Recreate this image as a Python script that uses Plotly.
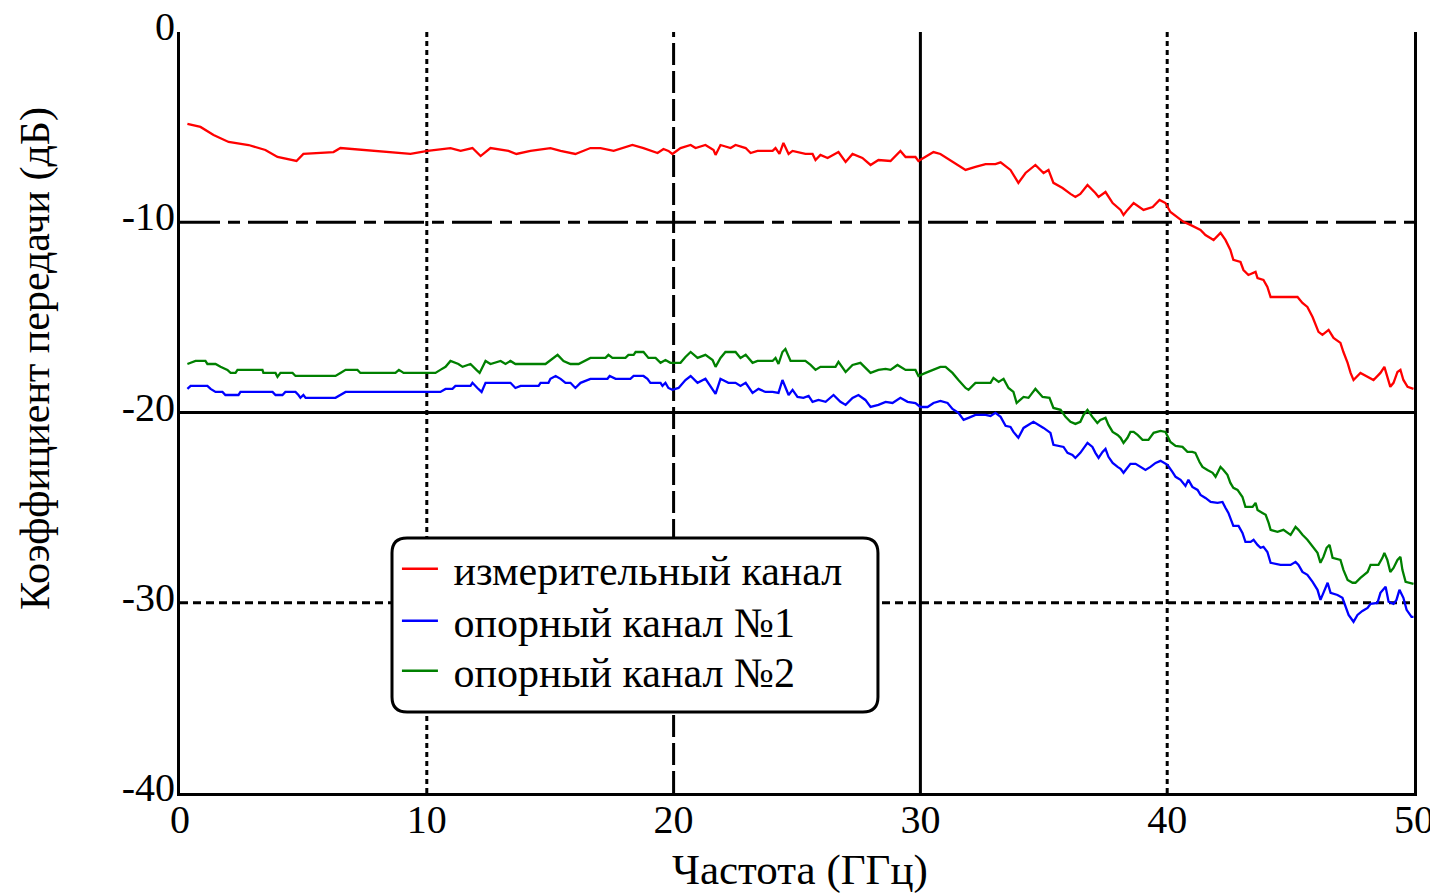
import plotly.graph_objects as go

# ---- data ----
freq_meas = [0.30, 0.83, 1.36, 1.97, 2.78, 3.46, 3.95, 4.72, 5.00, 6.22, 6.50, 7.84, 9.34, 10.03, 10.96, 11.37,
             11.85, 12.18, 12.58, 13.31, 13.63, 14.20, 15.01, 15.42, 16.02, 16.63, 17.04, 17.57, 17.98, 18.33,
             18.78, 19.35, 19.59, 19.79, 19.95, 20.28, 20.69, 20.89, 21.29, 21.62, 21.70, 21.90, 22.31, 22.51,
             22.92, 23.12, 23.40, 24.01, 24.13, 24.29, 24.45, 24.66, 24.82, 25.34, 25.63, 25.75, 25.95, 26.24,
             26.68, 26.97, 27.25, 27.65, 27.98, 28.30, 28.79, 29.19, 29.40, 29.80, 29.92, 30.21, 30.53, 30.81,
             31.22, 31.54, 31.83, 32.23, 32.64, 33.04, 33.25, 33.65, 33.97, 34.26, 34.66, 34.99, 35.19, 35.39,
             35.76, 36.08, 36.28, 36.48, 36.77, 37.09, 37.22, 37.50, 37.58, 37.79, 38.11, 38.23, 38.39, 38.64,
             39.04, 39.41, 39.69, 39.93, 40.13, 40.34, 40.66, 40.94, 41.35, 41.55, 41.88, 42.16, 42.36, 42.56,
             42.68, 42.97, 43.09, 43.29, 43.58, 43.66, 43.90, 44.06, 44.19, 44.71, 45.28, 45.48, 45.68, 45.89,
             46.01, 46.13, 46.29, 46.54, 46.74, 47.02, 47.14, 47.31, 47.43, 47.55, 47.83, 48.12, 48.36, 48.64,
             48.80, 48.92, 49.04, 49.17, 49.33, 49.45, 49.57, 49.74, 49.98]
db_meas = [-4.83, -4.99, -5.41, -5.78, -5.94, -6.20, -6.57, -6.78, -6.41, -6.31, -6.10, -6.25, -6.41, -6.25,
           -6.10, -6.25, -6.10, -6.52, -6.10, -6.25, -6.41, -6.25, -6.10, -6.25, -6.41, -6.10, -6.10, -6.25,
           -6.10, -5.94, -6.10, -6.36, -6.15, -6.25, -6.41, -6.10, -5.94, -6.10, -5.94, -6.20, -6.46, -5.94,
           -6.10, -5.94, -6.10, -6.36, -6.25, -6.25, -6.10, -6.41, -5.83, -6.41, -6.25, -6.41, -6.41, -6.73,
           -6.46, -6.62, -6.31, -6.83, -6.41, -6.62, -6.99, -6.73, -6.78, -6.25, -6.57, -6.57, -6.78, -6.57,
           -6.31, -6.41, -6.73, -6.99, -7.25, -7.09, -6.94, -6.94, -6.85, -7.25, -7.93, -7.41, -6.99, -7.41,
           -7.25, -7.93, -8.20, -8.51, -8.67, -8.51, -8.04, -8.46, -8.67, -8.41, -8.57, -8.99, -9.35, -9.62,
           -9.35, -8.99, -9.35, -9.20, -8.83, -8.99, -9.46, -9.67, -9.98, -10.14, -10.40, -10.67, -10.93,
           -10.56, -10.93, -11.46, -11.98, -12.09, -12.51, -12.77, -12.61, -12.93, -13.03, -13.40, -13.93,
           -13.93, -13.93, -14.24, -14.45, -14.98, -15.40, -15.76, -15.92, -15.66, -16.08, -16.34, -16.82,
           -17.39, -17.92, -18.29, -17.92, -18.13, -18.29, -17.92, -17.60, -18.13, -18.65, -18.44, -17.87,
           -17.76, -18.29, -18.65, -18.76]

freq_ref1 = [0.30, 0.43, 1.11, 1.24, 1.44, 1.72, 1.84, 2.37, 2.45, 3.75, 3.87, 4.15, 4.27, 4.68, 4.80, 4.88,
             5.00, 5.09, 6.30, 6.50, 6.71, 10.55, 10.76, 11.04, 11.16, 11.77, 11.85, 12.05, 12.22, 12.38,
             13.39, 13.59, 13.80, 14.53, 14.61, 14.93, 15.01, 15.22, 15.42, 15.62, 15.82, 16.02, 16.23, 16.63,
             17.32, 17.41, 17.65, 18.25, 18.38, 18.78, 18.94, 19.06, 19.47, 19.55, 19.67, 19.79, 19.95, 20.20,
             20.48, 20.69, 20.97, 21.29, 21.49, 21.70, 21.90, 22.22, 22.51, 22.71, 22.92, 23.20, 23.44, 23.72,
             24.01, 24.25, 24.41, 24.66, 24.82, 25.02, 25.26, 25.47, 25.63, 25.87, 26.16, 26.48, 26.76, 26.97,
             27.25, 27.49, 27.77, 27.98, 28.30, 28.59, 28.87, 29.19, 29.48, 29.80, 30.00, 30.29, 30.53, 30.81,
             31.10, 31.30, 31.54, 31.75, 31.95, 32.23, 32.64, 32.84, 33.04, 33.25, 33.45, 33.65, 33.77, 33.97,
             34.18, 34.58, 34.99, 35.27, 35.39, 35.56, 35.80, 35.96, 36.16, 36.28, 36.48, 36.77, 36.97, 37.09,
             37.22, 37.38, 37.50, 37.62, 37.79, 37.99, 38.11, 38.23, 38.39, 38.51, 38.72, 38.92, 39.12, 39.32,
             39.53, 39.73, 39.85, 40.01, 40.21, 40.34, 40.54, 40.74, 40.86, 41.02, 41.23, 41.35, 41.55, 41.76,
             42.04, 42.24, 42.36, 42.48, 42.68, 42.89, 43.05, 43.17, 43.38, 43.50, 43.66, 43.78, 43.90, 44.06,
             44.19, 44.59, 45.00, 45.20, 45.32, 45.48, 45.68, 45.89, 46.09, 46.21, 46.33, 46.50, 46.62, 46.90,
             47.10, 47.22, 47.35, 47.55, 47.71, 47.91, 48.12, 48.24, 48.52, 48.64, 48.85, 48.97, 49.17, 49.29,
             49.41, 49.57, 49.70, 49.90, 49.98]
db_ref1 = [-18.76, -18.60, -18.60, -18.76, -18.92, -18.92, -19.08, -19.08, -18.92, -18.92, -19.08, -19.08,
           -18.92, -18.92, -19.08, -19.23, -19.08, -19.23, -19.23, -19.08, -18.92, -18.92, -18.76, -18.76,
           -18.60, -18.60, -18.44, -18.71, -18.92, -18.44, -18.44, -18.71, -18.60, -18.60, -18.44, -18.44,
           -18.23, -18.08, -18.23, -18.44, -18.44, -18.71, -18.44, -18.23, -18.23, -18.08, -18.23, -18.23,
           -18.08, -18.08, -18.23, -18.44, -18.44, -18.60, -18.44, -18.71, -18.81, -18.71, -18.29, -18.08,
           -18.44, -18.23, -18.65, -19.02, -18.23, -18.44, -18.44, -18.60, -18.44, -18.97, -18.76, -18.92,
           -18.92, -18.97, -18.29, -19.08, -18.81, -19.18, -19.23, -19.13, -19.44, -19.34, -19.44, -19.08,
           -19.44, -19.60, -19.23, -19.08, -19.34, -19.71, -19.60, -19.44, -19.50, -19.23, -19.44, -19.50,
           -19.71, -19.71, -19.50, -19.39, -19.50, -19.81, -20.02, -20.39, -20.28, -20.13, -20.13, -20.18,
           -20.02, -20.23, -20.70, -20.76, -21.02, -21.33, -20.81, -20.49, -20.81, -21.07, -21.70, -21.76,
           -21.81, -22.12, -22.23, -22.39, -22.12, -21.60, -21.81, -22.12, -22.39, -22.07, -21.91, -22.33,
           -22.65, -22.86, -22.96, -23.17, -22.91, -22.70, -22.70, -22.86, -23.02, -22.86, -22.65, -22.54,
           -22.65, -22.75, -23.12, -23.38, -23.54, -23.86, -23.54, -23.91, -24.07, -24.33, -24.49, -24.70,
           -24.75, -24.70, -25.01, -25.28, -25.96, -25.96, -26.33, -26.80, -26.80, -26.69, -26.96, -27.11,
           -27.06, -27.33, -27.90, -28.01, -28.01, -27.85, -28.01, -28.38, -28.53, -28.90, -29.32, -29.85,
           -29.48, -28.95, -29.48, -29.59, -29.74, -30.22, -30.64, -31.00, -30.64, -30.43, -30.27, -30.06,
           -30.01, -29.48, -29.16, -29.95, -30.06, -29.85, -29.32, -29.74, -30.37, -30.74, -30.74]

freq_ref2 = [0.30, 0.63, 1.03, 1.11, 1.44, 1.64, 1.92, 2.05, 2.25, 2.33, 3.34, 3.38, 3.87, 3.95, 4.07, 4.56,
             4.68, 6.30, 6.50, 6.71, 7.19, 7.31, 8.73, 8.87, 9.06, 10.35, 10.55, 10.76, 10.96, 11.28, 11.45,
             11.77, 12.01, 12.14, 12.38, 12.58, 12.99, 13.19, 13.39, 13.59, 14.81, 15.01, 15.30, 15.54, 15.82,
             16.15, 16.31, 16.63, 17.24, 17.36, 17.52, 18.05, 18.17, 18.38, 18.46, 18.78, 18.98, 19.27, 19.47,
             19.67, 19.87, 20.28, 20.48, 20.69, 20.97, 21.29, 21.58, 21.70, 21.90, 22.10, 22.51, 22.71, 22.92,
             23.20, 23.40, 24.01, 24.13, 24.25, 24.41, 24.53, 24.74, 25.34, 25.55, 25.75, 25.95, 26.56, 26.68,
             26.97, 27.25, 27.57, 27.98, 28.30, 28.59, 28.79, 29.07, 29.40, 29.80, 29.92, 30.21, 30.50, 30.81,
             31.02, 31.30, 31.54, 31.83, 31.95, 32.23, 32.84, 32.96, 33.17, 33.37, 33.57, 33.77, 33.90, 34.18,
             34.38, 34.66, 34.95, 35.23, 35.39, 35.68, 35.88, 36.08, 36.28, 36.48, 36.61, 36.77, 36.97, 37.17,
             37.29, 37.50, 37.62, 37.79, 37.99, 38.11, 38.23, 38.39, 38.51, 38.64, 38.80, 39.00, 39.24, 39.45,
             39.73, 39.93, 40.13, 40.34, 40.62, 40.82, 41.02, 41.14, 41.31, 41.43, 41.63, 41.84, 41.96, 42.16,
             42.28, 42.44, 42.56, 42.68, 42.85, 43.05, 43.17, 43.46, 43.58, 43.66, 43.86, 43.99, 44.11, 44.19,
             44.47, 44.71, 45.00, 45.20, 45.32, 45.48, 45.68, 45.89, 46.09, 46.21, 46.33, 46.46, 46.58, 46.70,
             46.90, 47.02, 47.14, 47.31, 47.51, 47.63, 47.83, 48.12, 48.24, 48.56, 48.72, 48.80, 48.92, 49.04,
             49.17, 49.33, 49.45, 49.53, 49.66, 49.98]
db_ref2 = [-17.45, -17.29, -17.29, -17.45, -17.45, -17.60, -17.76, -17.92, -17.92, -17.76, -17.76, -17.92,
           -17.92, -18.13, -17.92, -17.92, -18.08, -18.08, -17.92, -17.76, -17.76, -17.92, -17.92, -17.76,
           -17.92, -17.92, -17.76, -17.60, -17.29, -17.45, -17.60, -17.45, -17.76, -17.92, -17.29, -17.45,
           -17.29, -17.45, -17.29, -17.45, -17.45, -17.24, -16.97, -17.29, -17.45, -17.45, -17.34, -17.13,
           -17.13, -16.97, -17.13, -17.13, -16.97, -16.97, -16.82, -16.82, -17.13, -17.13, -17.39, -17.24,
           -17.39, -17.39, -17.08, -16.82, -17.13, -16.97, -17.24, -17.60, -17.13, -16.82, -16.82, -17.13,
           -16.97, -17.39, -17.29, -17.29, -17.13, -17.45, -16.82, -16.66, -17.29, -17.29, -17.50, -17.76,
           -17.60, -17.60, -17.34, -17.87, -17.50, -17.39, -17.92, -17.76, -17.71, -17.76, -17.50, -17.76,
           -17.76, -18.08, -17.92, -17.76, -17.60, -17.60, -17.92, -18.29, -18.71, -18.81, -18.44, -18.44,
           -18.18, -18.39, -18.23, -18.71, -18.92, -19.50, -19.18, -19.23, -18.76, -19.18, -19.23, -19.76,
           -19.86, -20.23, -20.49, -20.60, -20.49, -20.13, -19.86, -20.23, -20.55, -20.39, -20.28, -20.65,
           -21.02, -21.18, -21.33, -21.60, -21.33, -21.02, -21.02, -21.18, -21.44, -21.44, -21.07, -20.97,
           -21.02, -21.55, -21.76, -21.81, -22.07, -22.07, -22.12, -22.60, -22.86, -23.02, -23.17, -23.38,
           -22.86, -23.02, -23.28, -23.70, -23.96, -24.07, -24.44, -24.96, -24.96, -24.75, -25.12, -25.28,
           -25.38, -25.80, -26.17, -26.27, -26.17, -26.43, -26.01, -26.17, -26.43, -26.69, -27.06, -27.38,
           -27.90, -27.59, -27.11, -26.96, -27.64, -27.69, -27.75, -28.27, -28.80, -28.95, -28.95, -28.69,
           -28.38, -28.01, -28.01, -27.64, -27.38, -27.75, -28.38, -28.17, -27.75, -27.59, -28.27, -28.90,
           -29.01]

series_names = ["измерительный канал", "опорный канал №1", "опорный канал №2"]
series_colors = ["#ff0000", "#0000ff", "#008000"]
legend_ids = ["legend", "legend2", "legend3"]

x_ticks = [0, 10, 20, 30, 40, 50]
y_ticks = [-40, -30, -20, -10, 0]
y_tick_text = ["-40", "-30", "-20", "-10", "0"]

x_title = "Частота (ГГц)"
y_title = "Коэффициент передачи (дБ)"

FONT = "Liberation Serif"

fig = go.Figure()
for fx, fy, name, col, lg in zip([freq_meas, freq_ref1, freq_ref2], [db_meas, db_ref1, db_ref2],
                                 series_names, series_colors, legend_ids):
    fig.add_trace(go.Scatter(x=fx, y=fy, mode="lines", name="\u00a0" + name, legend=lg,
                             line=dict(color=col, width=2.3)))

# grid lines with individual styles
grid_v = [(10, "5px,4px"), (20, "22px,6px"), (30, "solid"), (40, "5px,4px")]
grid_h = [(-10, "40px,8px,12px,8px"), (-20, "solid"), (-30, "8px,5px")]
shapes = []
for gx, dash in grid_v:
    shapes.append(dict(type="line", xref="x", yref="y", x0=gx, x1=gx, y0=-40, y1=0,
                       line=dict(color="black", width=3, dash=dash), layer="below"))
for gy, dash in grid_h:
    shapes.append(dict(type="line", xref="x", yref="y", x0=0, x1=50, y0=gy, y1=gy,
                       line=dict(color="black", width=3, dash=dash), layer="below"))

# rounded legend frame (paper coordinates)
lx0, lx1, ly0, ly1 = 0.1718, 0.5656, 0.1064, 0.3351
rx, ry = 0.0122, 0.0197
path = (f"M {lx0+rx},{ly1} L {lx1-rx},{ly1} Q {lx1},{ly1} {lx1},{ly1-ry} "
        f"L {lx1},{ly0+ry} Q {lx1},{ly0} {lx1-rx},{ly0} L {lx0+rx},{ly0} "
        f"Q {lx0},{ly0} {lx0},{ly0+ry} L {lx0},{ly1-ry} Q {lx0},{ly1} {lx0+rx},{ly1} Z")
shapes.append(dict(type="path", xref="paper", yref="paper", path=path,
                   fillcolor="white", line=dict(color="black", width=3), layer="above"))

legend_rows_y = [0.2944, 0.2261, 0.1604]
legend_style = dict(x=0.1758, xanchor="left", yanchor="middle",
                    bgcolor="rgba(0,0,0,0)", borderwidth=0,
                    font=dict(family=FONT, size=42, color="black"), itemwidth=36)

fig.update_layout(
    width=1430, height=887,
    margin=dict(l=172, r=24, t=24, b=102, autoexpand=False),
    paper_bgcolor="white", plot_bgcolor="white",
    font=dict(family=FONT, size=40, color="black"),
    showlegend=True,
    legend=dict(y=legend_rows_y[0], **legend_style),
    legend2=dict(y=legend_rows_y[1], **legend_style),
    legend3=dict(y=legend_rows_y[2], **legend_style),
    shapes=shapes,
    xaxis=dict(range=[0, 50], tickvals=x_ticks, ticktext=[str(v) for v in x_ticks],
               showgrid=False, zeroline=False, showline=True, linecolor="black", linewidth=3,
               automargin=False, ticks="", ticklabelstandoff=-11, ticklabeloverflow="allow",
               tickfont=dict(family=FONT, size=40)),
    yaxis=dict(range=[-40, 0], tickvals=y_ticks, ticktext=y_tick_text,
               showgrid=False, zeroline=False, showline=True, mirror=True,
               linecolor="black", linewidth=3, automargin=False,
               ticks="", ticklabelstandoff=-6, ticklabelshift=-6, ticklabeloverflow="allow",
               tickfont=dict(family=FONT, size=40)),
    annotations=[
        dict(text=x_title, xref="paper", yref="paper", x=0.5024, y=-0.1012,
             xanchor="center", yanchor="middle", showarrow=False,
             font=dict(family=FONT, size=43)),
        dict(text=y_title, xref="paper", yref="paper", x=-0.1175, y=0.5703,
             xanchor="center", yanchor="middle", showarrow=False, textangle=-90,
             font=dict(family=FONT, size=42)),
    ],
)

fig.write_html("out.html")
